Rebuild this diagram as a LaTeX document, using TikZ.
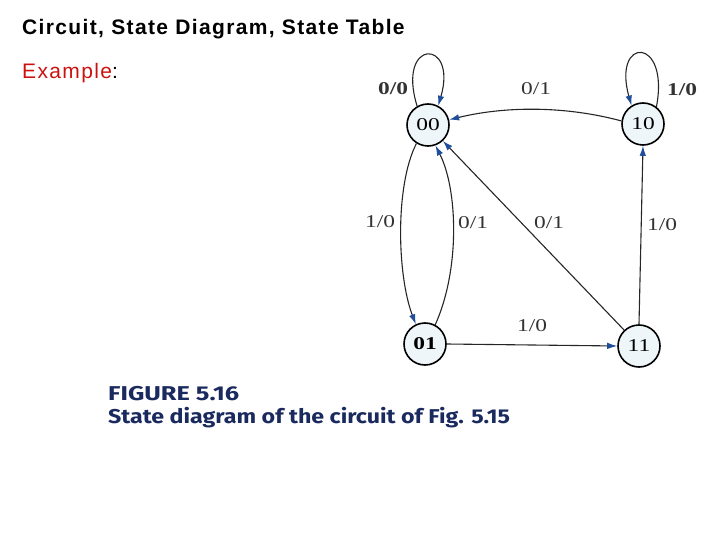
\documentclass[tikz,border=0pt]{standalone}
\usepackage{fontspec}
\usepackage{graphicx}
\setmainfont{Liberation Serif}
\newfontfamily\titlefont[LetterSpace=6.5]{Liberation Sans}
\newfontfamily\capfont{Fira Sans}
\usetikzlibrary{arrows.meta}
\definecolor{tipblue}{HTML}{1F4E9A}
\definecolor{capblue}{HTML}{1A2A5E}
\definecolor{exred}{HTML}{CC1111}
\definecolor{statefill}{HTML}{EEF6FA}
\newcommand\wide[1]{\scalebox{1.3}[1]{#1}}
\tikzset{
  state/.style={circle, draw=black, line width=1.6pt, fill=statefill, minimum size=42pt, inner sep=0pt, font=\fontsize{18}{18}\selectfont},
  edge/.style={line width=1.1pt, draw=black!85, -{Latex[length=10pt,width=6.5pt,color=tipblue]}},
  lbl/.style={font=\fontsize{18}{18}\selectfont, text=black!80}
}
\begin{document}
\begin{tikzpicture}[x=1pt,y=-1pt]
\useasboundingbox (0,0) rectangle (720,540);
% titles
\node[anchor=base west, inner sep=0pt, font=\titlefont\bfseries\fontsize{21}{22}\selectfont] (title) at (22,35) {Circuit, State Diagram, State Table};
\node[anchor=base west, inner sep=0pt, font=\titlefont\fontsize{21}{22}\selectfont] (ex) at (22,79) {\textcolor{exred}{Example}:};
% states
\node[state] (s00) at (428,125) {\wide{00}};
\node[state] (s10) at (643,124) {\wide{10}};
\node[state] (s01) at (425,344) {\wide{\textbf{01}}};
\node[state] (s11) at (639,346) {\wide{11}};
% loops
\draw[edge] (s00.120) .. controls (396,38) and (458,38) .. (s00.62);
\draw[edge] (s10.52) .. controls (670,36) and (612,36) .. (s10.122);
% edges
\draw[edge] (s10.172) .. controls (570,107) and (510,105) .. (s00.14);
\draw[edge] (s00.238) .. controls (395,185) and (397,275) .. (s01.115);
\draw[edge] (s01.62) .. controls (460,270) and (458,190) .. (s00.290);
\draw[edge] (s11.133) -- (s00.313);
\draw[edge] (s11.north) -- (s10.south);
\draw[edge] (s01.east) -- (s11.west);
% labels
\node[lbl] (l1) at (393,89) {\wide{\textbf{0/0}}};
\node[lbl] (l2) at (682,90) {\wide{\textbf{1/0}}};
\node[lbl] (l3) at (536,89) {\wide{0/1}};
\node[lbl] (l4) at (380,222) {\wide{1/0}};
\node[lbl] (l5) at (473,223) {\wide{0/1}};
\node[lbl] (l6) at (549,223) {\wide{0/1}};
\node[lbl] (l7) at (662,225) {\wide{1/0}};
\node[lbl] (l8) at (532,326) {\wide{1/0}};
% caption
\node[anchor=base west, inner sep=0pt, text=capblue, font=\capfont\bfseries\fontsize{20}{20}\selectfont] (cap1) at (108,400) {\scalebox{1.27}[1]{FIGURE 5.16}};
\node[anchor=base west, inner sep=0pt, text=capblue, font=\capfont\bfseries\fontsize{20}{20}\selectfont] (cap2) at (108,423) {\scalebox{1.16}[1]{State diagram of the circuit of Fig. 5.15}};
\end{tikzpicture}
\end{document}
